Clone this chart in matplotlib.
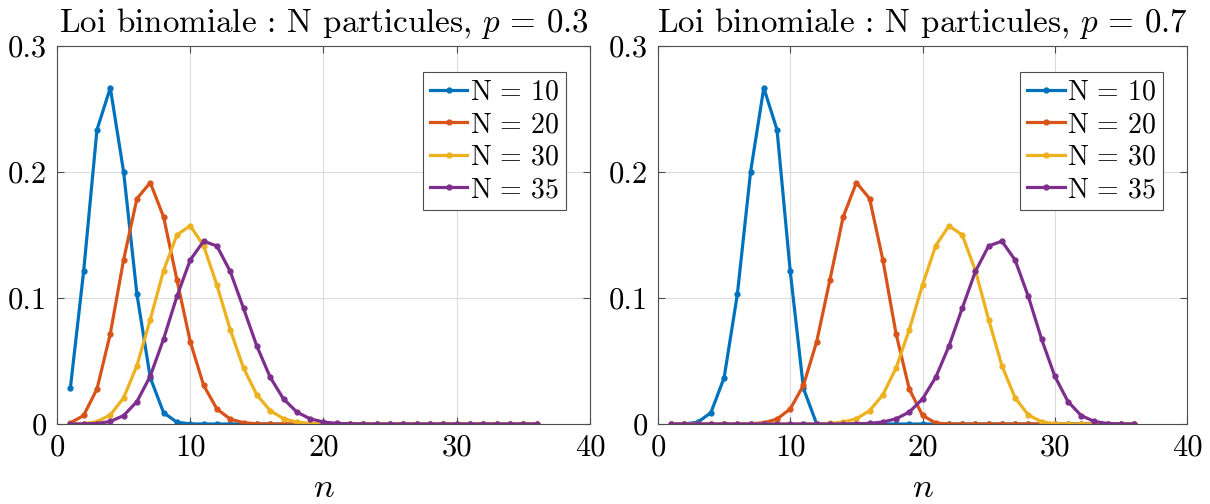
import numpy as np
import matplotlib
matplotlib.use("Agg")
import matplotlib.pyplot as plt
from matplotlib.ticker import FuncFormatter

# LaTeX-like look (MATLAB figure with latex interpreter)
plt.rcParams['font.family'] = 'serif'
plt.rcParams['font.serif'] = ['cmr10', 'DejaVu Serif']
plt.rcParams['mathtext.fontset'] = 'cm'
plt.rcParams['axes.formatter.use_mathtext'] = True

# n values on the x axis
n = np.arange(1, 37)

# Binomial probabilities, p = 0.3
p3_N10 = [0.0282, 0.1211, 0.2335, 0.2668, 0.2001, 0.1029, 0.0368, 0.0090, 0.0014, 0.0001,
          0.0000, 0, 0, 0, 0, 0, 0, 0, 0, 0,
          0, 0, 0, 0, 0, 0, 0, 0, 0, 0,
          0, 0, 0, 0, 0, 0]
p3_N20 = [0.0008, 0.0068, 0.0278, 0.0716, 0.1304, 0.1789, 0.1916, 0.1643, 0.1144, 0.0654,
          0.0308, 0.0120, 0.0039, 0.0010, 0.0002, 0, 0, 0, 0, 0,
          0, 0, 0, 0, 0, 0, 0, 0, 0, 0,
          0, 0, 0, 0, 0, 0]
p3_N30 = [0.0000, 0.0003, 0.0018, 0.0072, 0.0208, 0.0464, 0.0829, 0.1218, 0.1501, 0.1573,
          0.1416, 0.1103, 0.0749, 0.0444, 0.0231, 0.0106, 0.0042, 0.0015, 0.0005, 0.0001,
          0, 0, 0, 0, 0, 0, 0, 0, 0, 0,
          0, 0, 0, 0, 0, 0]
p3_N35 = [0.0000, 0.0001, 0.0004, 0.0020, 0.0067, 0.0178, 0.0380, 0.0675, 0.1013, 0.1302,
          0.1451, 0.1413, 0.1211, 0.0918, 0.0618, 0.0371, 0.0199, 0.0095, 0.0041, 0.0016,
          0.0005, 0.0002, 0, 0, 0, 0, 0, 0, 0, 0,
          0, 0, 0, 0, 0, 0]

# p = 0.7
p7_N10 = [0, 0.0001, 0.0014, 0.0090, 0.0368, 0.1029, 0.2001, 0.2668, 0.2335, 0.1211,
          0.0282, 0, 0, 0, 0, 0, 0, 0, 0, 0,
          0, 0, 0, 0, 0, 0, 0, 0, 0, 0,
          0, 0, 0, 0, 0, 0]
p7_N20 = [0, 0, 0, 0, 0, 0, 0.0002, 0.0010, 0.0039, 0.0120,
          0.0308, 0.0654, 0.1144, 0.1643, 0.1916, 0.1789, 0.1304, 0.0716, 0.0278, 0.0068,
          0.0008, 0, 0, 0, 0, 0, 0, 0, 0, 0,
          0, 0, 0, 0, 0, 0]
p7_N30 = [0, 0, 0, 0, 0, 0, 0, 0, 0, 0,
          0, 0.0001, 0.0005, 0.0015, 0.0042, 0.0106, 0.0231, 0.0444, 0.0749, 0.1103,
          0.1416, 0.1573, 0.1501, 0.1218, 0.0829, 0.0464, 0.0208, 0.0072, 0.0018, 0.0003,
          0, 0, 0, 0, 0, 0]
p7_N35 = [0, 0, 0, 0, 0, 0, 0, 0, 0, 0,
          0, 0, 0, 0, 0.0002, 0.0005, 0.0016, 0.0041, 0.0095, 0.0199,
          0.0371, 0.0618, 0.0918, 0.1211, 0.1413, 0.1451, 0.1302, 0.1013, 0.0675, 0.0380,
          0.0178, 0.0067, 0.0020, 0.0004, 0.0001, 0]

N_values = [10, 20, 30, 35]
titles = [r'Loi binomiale : N particules, $p\,=\,0.3$',
          r'Loi binomiale : N particules, $p\,=\,0.7$']
panels = [[p3_N10, p3_N20, p3_N30, p3_N35],
          [p7_N10, p7_N20, p7_N30, p7_N35]]

# MATLAB default colour order
colors = ['#0072BD', '#D95319', '#EDB120', '#7E2F8E']

fig = plt.figure(figsize=(12.1, 5.04), dpi=100)
ax_pos = [[0.0471, 0.1587, 0.4405, 0.75],
          [0.5438, 0.1587, 0.4372, 0.75]]

for pos, title, series in zip(ax_pos, titles, panels):
    ax = fig.add_axes(pos)
    for y, N, c in zip(series, N_values, colors):
        ax.plot(n, y, color=c, lw=2.3, marker='.', markersize=7,
                label=r'$\mathrm{N}\,=\,%d$' % N)
    ax.set_xlim(0, 40)
    ax.set_ylim(0, 0.3)
    ax.set_xticks([0, 10, 20, 30, 40])
    ax.set_yticks([0, 0.1, 0.2, 0.3])
    ax.yaxis.set_major_formatter(FuncFormatter(lambda v, _: '%g' % v))
    ax.xaxis.set_major_formatter(FuncFormatter(lambda v, _: '%g' % v))
    ax.grid(True, color='#dcdcdc', lw=0.8)
    ax.set_axisbelow(True)
    ax.tick_params(direction='in', top=True, right=True, length=5, width=0.8,
                   colors='#4d4d4d', labelcolor='black', labelsize=22, pad=7)
    for s in ax.spines.values():
        s.set_color('#4d4d4d')
        s.set_linewidth(0.8)
    ax.set_title(title, fontsize=23.8, pad=10)
    ax.set_xlabel('$n$', fontsize=25, labelpad=8)
    leg = ax.legend(loc='upper right', bbox_to_anchor=(0.955, 0.93), borderaxespad=0,
                    fontsize=20, fancybox=False, framealpha=1, edgecolor='#4d4d4d',
                    handlelength=1.35, handletextpad=0.1, labelspacing=0.22,
                    borderpad=0.25)
    leg.get_frame().set_linewidth(0.8)

fig.savefig('out.png', dpi=100)
